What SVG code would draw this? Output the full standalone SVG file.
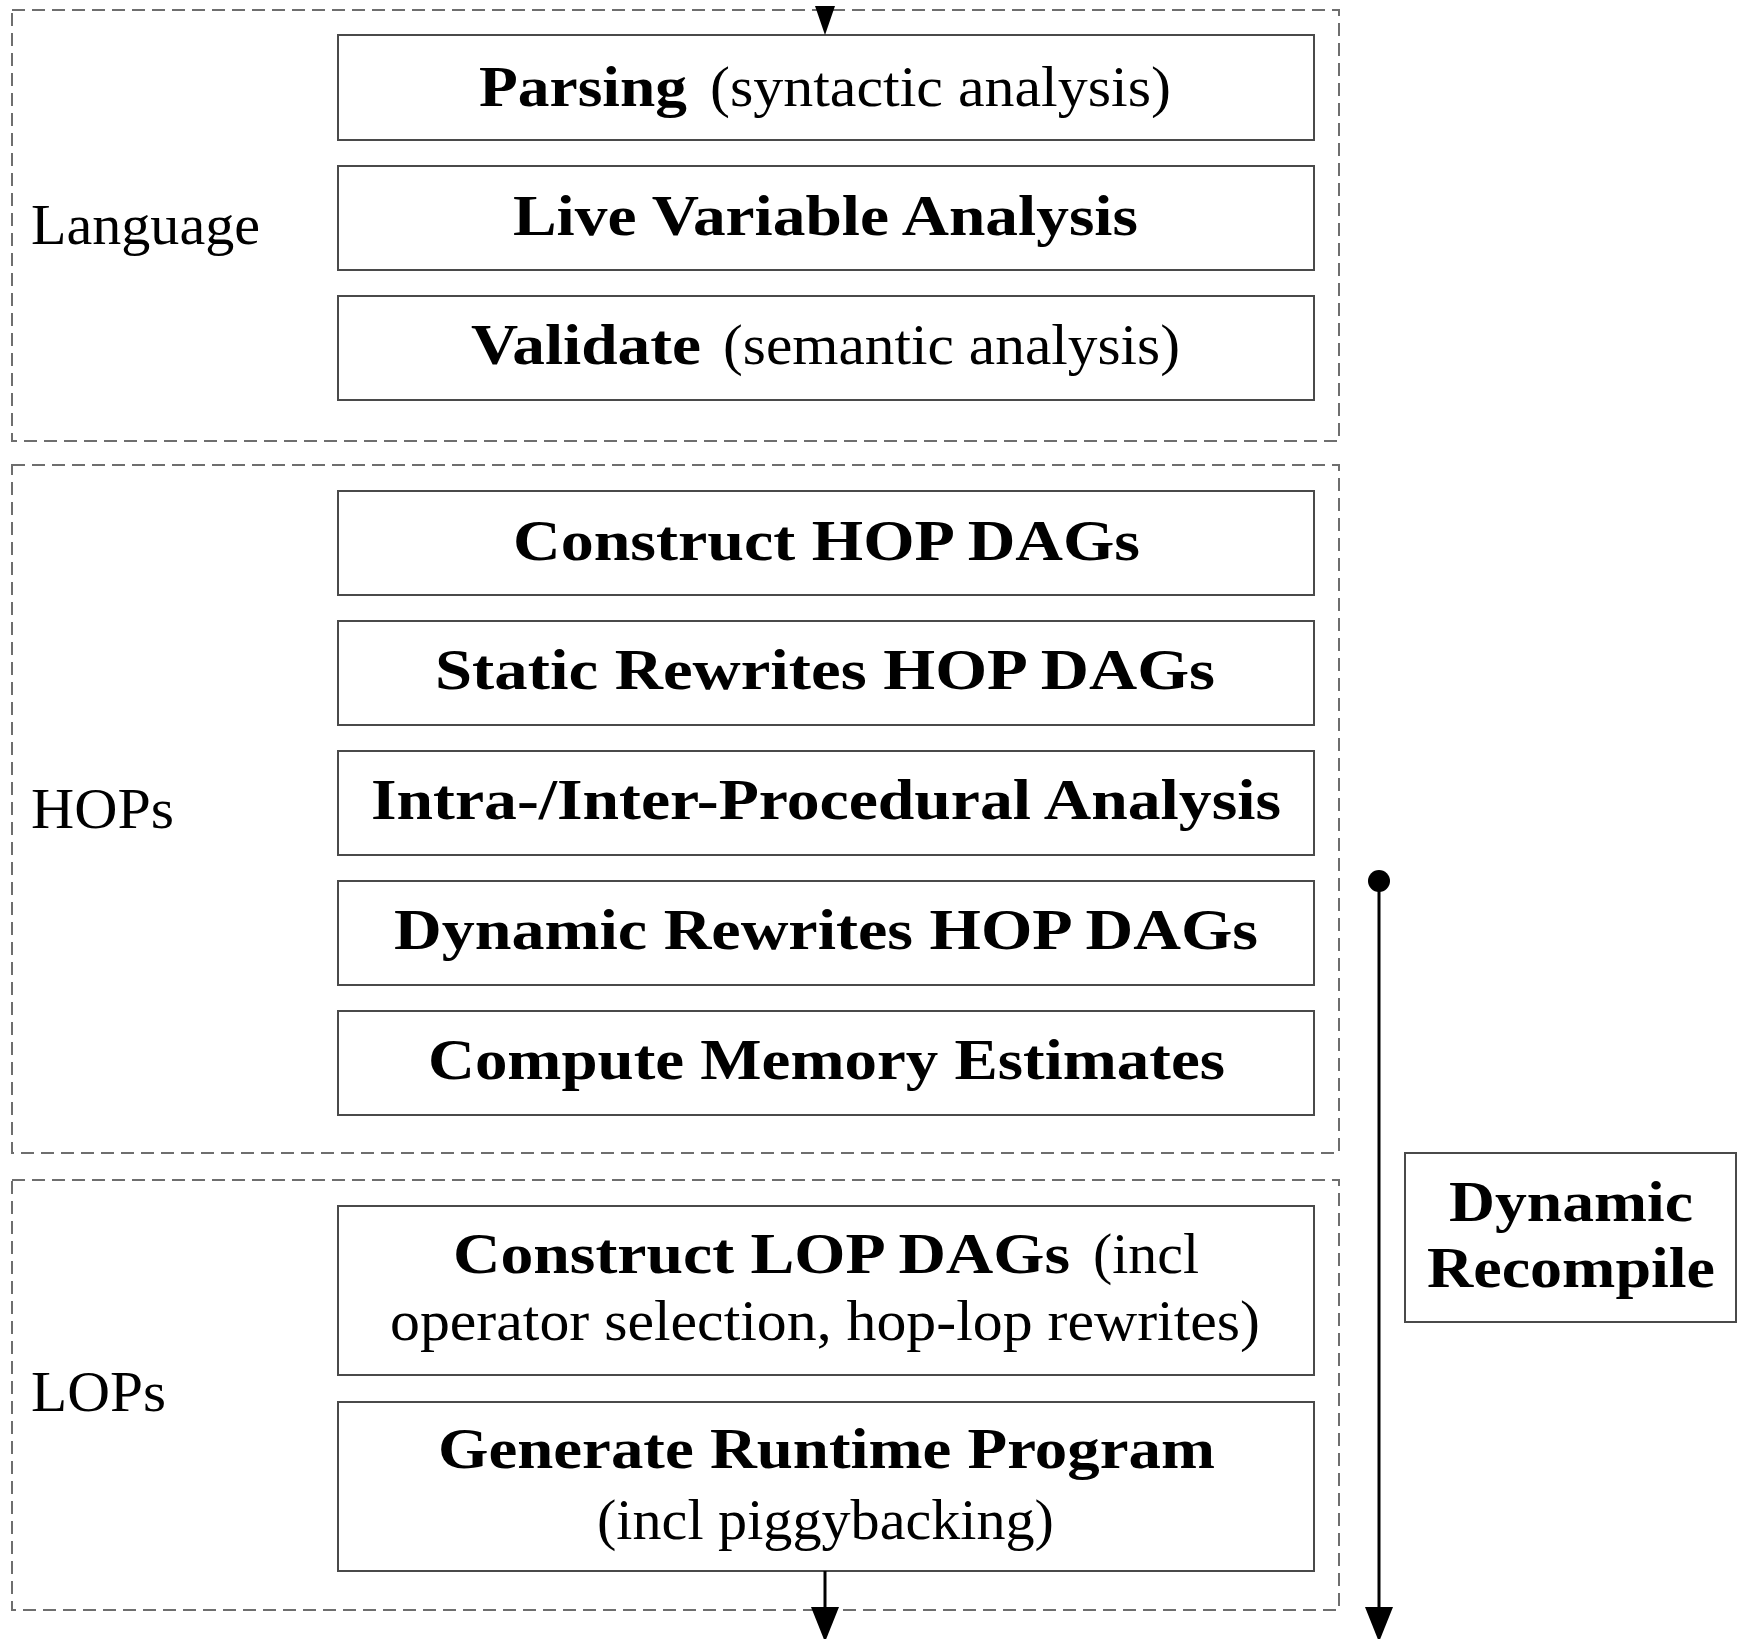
<svg xmlns="http://www.w3.org/2000/svg" width="1737" height="1639" viewBox="0 0 1737 1639">
  <style>
    .stage { fill: #ffffff; stroke: #4a4a4a; stroke-width: 2; }
    .group { fill: none; stroke: #6e6e6e; stroke-width: 2; stroke-dasharray: 13 7; }
    text { font-family: "Liberation Serif", "DejaVu Serif", serif; font-size: 56px; fill: #000; }
    .b { font-weight: bold; }
    .flow { fill: none; stroke: #000; stroke-width: 3; }
  </style>
  <defs>
    <!-- solid arrowhead, its base sits on the end of the line -->
    <marker id="head" viewBox="0 0 35 28" refX="0" refY="14" markerWidth="35" markerHeight="28" markerUnits="userSpaceOnUse" orient="auto">
      <path d="M0,0 L35,14 L0,28 Z" fill="#000"/>
    </marker>
  </defs>

  <!-- phase groups -->
  <g id="grp-language">
    <rect class="group" x="12" y="10" width="1327" height="431"/>
    <text x="31" y="244" textLength="229" lengthAdjust="spacingAndGlyphs">Language</text>
  </g>
  <g id="grp-hops">
    <rect class="group" x="12" y="465" width="1327" height="688"/>
    <text x="31" y="828" textLength="143" lengthAdjust="spacingAndGlyphs">HOPs</text>
  </g>
  <g id="grp-lops">
    <rect class="group" x="12" y="1180" width="1327" height="430"/>
    <text x="31" y="1411" textLength="135" lengthAdjust="spacingAndGlyphs">LOPs</text>
  </g>

  <!-- compilation stages -->
  <g id="parsing">
    <rect class="stage" x="338" y="35" width="976" height="105"/>
    <text y="106"><tspan class="b" x="479" textLength="208" lengthAdjust="spacingAndGlyphs">Parsing</tspan><tspan x="710" textLength="461" lengthAdjust="spacingAndGlyphs">(syntactic analysis)</tspan></text>
  </g>
  <g id="live-variable">
    <rect class="stage" x="338" y="166" width="976" height="104"/>
    <text class="b" x="513" y="235" textLength="625" lengthAdjust="spacingAndGlyphs">Live Variable Analysis</text>
  </g>
  <g id="validate">
    <rect class="stage" x="338" y="296" width="976" height="104"/>
    <text y="364"><tspan class="b" x="471" textLength="230" lengthAdjust="spacingAndGlyphs">Validate</tspan><tspan x="723" textLength="457" lengthAdjust="spacingAndGlyphs">(semantic analysis)</tspan></text>
  </g>
  <g id="construct-hop">
    <rect class="stage" x="338" y="491" width="976" height="104"/>
    <text class="b" x="513" y="560" textLength="627" lengthAdjust="spacingAndGlyphs">Construct HOP DAGs</text>
  </g>
  <g id="static-rewrites">
    <rect class="stage" x="338" y="621" width="976" height="104"/>
    <text class="b" x="435" y="689" textLength="780" lengthAdjust="spacingAndGlyphs">Static Rewrites HOP DAGs</text>
  </g>
  <g id="ipa">
    <rect class="stage" x="338" y="751" width="976" height="104"/>
    <text class="b" x="371" y="819" textLength="910" lengthAdjust="spacingAndGlyphs">Intra-/Inter-Procedural Analysis</text>
  </g>
  <g id="dynamic-rewrites">
    <rect class="stage" x="338" y="881" width="976" height="104"/>
    <text class="b" x="394" y="949" textLength="864" lengthAdjust="spacingAndGlyphs">Dynamic Rewrites HOP DAGs</text>
  </g>
  <g id="memory-estimates">
    <rect class="stage" x="338" y="1011" width="976" height="104"/>
    <text class="b" x="428" y="1079" textLength="797" lengthAdjust="spacingAndGlyphs">Compute Memory Estimates</text>
  </g>
  <g id="construct-lop">
    <rect class="stage" x="338" y="1206" width="976" height="169"/>
    <text y="1273"><tspan class="b" x="453" textLength="617" lengthAdjust="spacingAndGlyphs">Construct LOP DAGs</tspan><tspan x="1093" textLength="106" lengthAdjust="spacingAndGlyphs">(incl</tspan></text>
    <text x="390" y="1340" textLength="870" lengthAdjust="spacingAndGlyphs">operator selection, hop-lop rewrites)</text>
  </g>
  <g id="runtime-program">
    <rect class="stage" x="338" y="1402" width="976" height="169"/>
    <text class="b" x="438" y="1468" textLength="777" lengthAdjust="spacingAndGlyphs">Generate Runtime Program</text>
    <text x="597" y="1539" textLength="457" lengthAdjust="spacingAndGlyphs">(incl piggybacking)</text>
  </g>
  <g id="dynamic-recompile">
    <rect class="stage" x="1405" y="1153" width="331" height="169"/>
    <text class="b" x="1449" y="1221" textLength="244" lengthAdjust="spacingAndGlyphs">Dynamic</text>
    <text class="b" x="1427" y="1287" textLength="288" lengthAdjust="spacingAndGlyphs">Recompile</text>
  </g>

  <!-- connectors -->
  <g id="connectors">
    <!-- entry arrow into parsing -->
    <path d="M815,6 L835,6 L825,35 Z" fill="#000"/>
    <!-- exit arrow from runtime program -->
    <line class="flow" x1="825" y1="1571" x2="825" y2="1607" marker-end="url(#head)"/>
    <!-- recompile loop arrow -->
    <circle cx="1379" cy="881" r="11" fill="#000"/>
    <line class="flow" x1="1379" y1="881" x2="1379" y2="1607" marker-end="url(#head)"/>
  </g>
</svg>
